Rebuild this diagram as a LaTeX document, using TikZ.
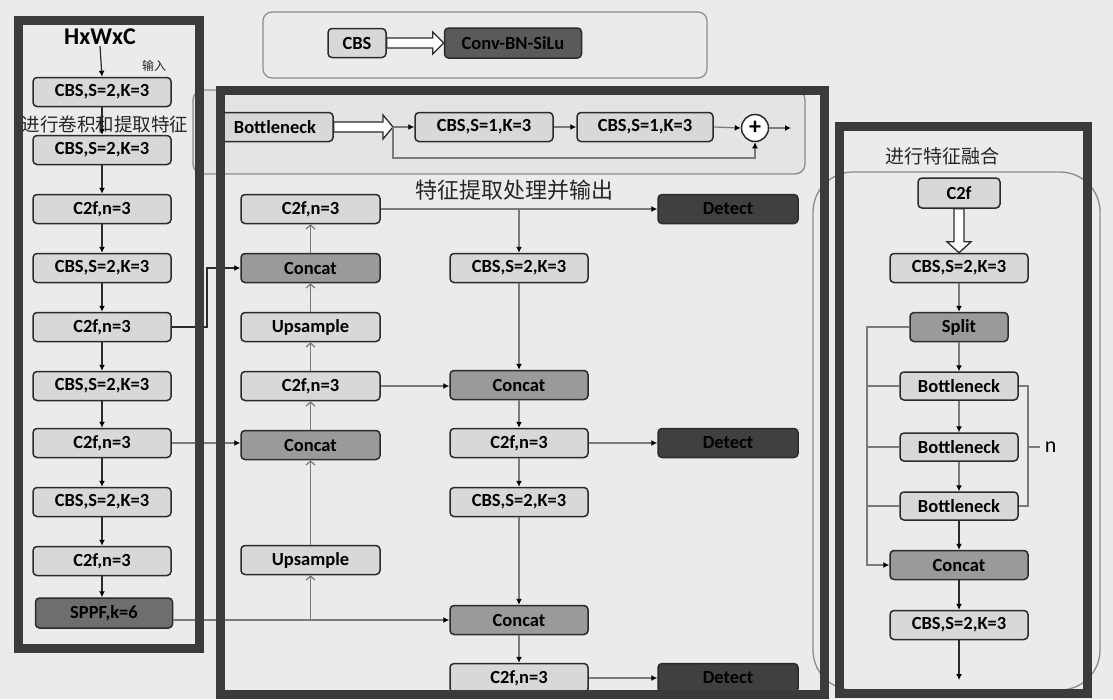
\documentclass[tikz,border=0pt]{standalone}
\usepackage{fontspec}
\setmainfont{Carlito}
\newfontfamily\cjk{Noto Sans CJK SC}
\usetikzlibrary{arrows.meta,calc}
\definecolor{bgc}{HTML}{EBEBEB}
\definecolor{lightf}{HTML}{D8D8D8}
\definecolor{midf}{HTML}{9A9A9A}
\definecolor{sppff}{HTML}{6E6E6E}
\definecolor{darkf}{HTML}{404040}
\definecolor{convf}{HTML}{5A5A5A}
\definecolor{bord}{HTML}{2B2B2B}
\definecolor{framec}{HTML}{3B3B3B}
\definecolor{linec}{HTML}{7A7A7A}
\definecolor{panelc}{HTML}{8C8C8C}
\begin{document}
\begin{tikzpicture}[x=1pt,y=-1pt,
  lbl/.style={font=\bfseries\fontsize{18.5}{18.5}\selectfont, text=black},
  bx/.style={lbl, draw=bord, line width=1.5pt, rounded corners=4pt, fill=lightf,
    minimum height=29pt, minimum width=138pt, inner sep=0pt},
  mbx/.style={bx, fill=midf},
  dbx/.style={bx, fill=darkf, text=black},
  frm/.style={draw=framec, line width=9pt},
  fa/.style={-{Latex[length=6pt,width=6pt,color=black]}},
  oa/.style={-{Straight Barb[length=4pt,width=9pt]}},
  ln/.style={draw=linec, line width=1.2pt},
  dl/.style={draw=bord, line width=1.2pt},
  hollow/.style={draw=bord, line width=1.3pt, fill=white, line join=miter},
  cjkt/.style={font=\cjk\fontsize{#1}{#1}\selectfont, text=black!85}
]
\useasboundingbox (0,0) rectangle (1113,699);
\fill[bgc] (0,0) rectangle (1113,699);

% ---------- legend ----------
\draw[draw=panelc, line width=1.2pt, rounded corners=9pt] (263,12) rectangle (707,78);
\node[bx, minimum width=58pt] (cbsleg) at (357,43) {CBS};
\node[bx, fill=convf, minimum width=137pt, minimum height=30pt] (conv) at (513,43) {Conv-BN-SiLu};
\draw[hollow] ($(cbsleg.east)+(0,-5)$) -- ($(conv.west)+(-11,-5)$) -- ($(conv.west)+(-11,-11)$)
  -- (conv.west) -- ($(conv.west)+(-11,11)$) -- ($(conv.west)+(-11,5)$) -- ($(cbsleg.east)+(0,5)$) -- cycle;

% ---------- bottleneck panel ----------
\draw[draw=panelc, line width=1.3pt, rounded corners=10pt, fill=black!3!bgc] (193,90) rectangle (805,174);
\node[bx, minimum width=116pt] (bneck) at (275,127) {Bottleneck};
\coordinate (bsplit) at (393,127);
\coordinate (bskip) at (393,158);
\node[bx] (bc1) at (484,127) {CBS,S=1,K=3};
\node[bx, minimum width=136pt] (bc2) at (645,127) {CBS,S=1,K=3};
\node[circle, draw=bord, line width=1.5pt, fill=white, minimum size=27pt, inner sep=0pt,
  font=\bfseries\fontsize{24}{24}\selectfont] (plus) at (755,128) {+};
\coordinate (bout) at (791,128);
\draw[hollow] ($(bneck.east)+(0,-5)$) -- ($(bsplit)+(-10,-5)$) -- ($(bsplit)+(-10,-12)$)
  -- (bsplit) -- ($(bsplit)+(-10,12)$) -- ($(bsplit)+(-10,5)$) -- ($(bneck.east)+(0,5)$) -- cycle;
\draw[ln, fa] (bsplit) -- (bc1.west);
\draw[ln, fa] (bc1.east) -- (bc2.west);
\draw[ln, fa] (bc2.east) -- (plus.west);
\draw[ln, fa] (plus.east) -- (bout);
\draw[ln, fa] (bsplit) -- (bskip) -| (plus.south);

% ---------- left column ----------
\node[font=\bfseries\fontsize{24}{24}\selectfont, inner sep=1pt] (hw) at (100,37) {HxWxC};
\node[cjkt=12] (inp) at (154,66) {输入};
\node[bx] (cbsL1) at (102,92) {CBS,S=2,K=3};
\node[bx] (cbsL2) at (102,150) {CBS,S=2,K=3};
\node[bx] (c2fL1) at (102,209) {C2f,n=3};
\node[bx] (cbsL3) at (102,268) {CBS,S=2,K=3};
\node[bx] (c2fL2) at (102,327) {C2f,n=3};
\node[bx] (cbsL4) at (102,386) {CBS,S=2,K=3};
\node[bx] (c2fL3) at (102,443) {C2f,n=3};
\node[bx] (cbsL5) at (102,502) {CBS,S=2,K=3};
\node[bx] (c2fL4) at (102,561) {C2f,n=3};
\node[bx, fill=sppff, minimum width=137pt, minimum height=30pt] (sppf) at (104,613) {SPPF,k=6};
\draw[dl, fa] (hw.south) -- (cbsL1.north);
\draw[dl, fa] (cbsL1.south) -- (cbsL2.north);
\draw[dl, fa] (cbsL2.south) -- (c2fL1.north);
\draw[dl, fa] (c2fL1.south) -- (cbsL3.north);
\draw[dl, fa] (cbsL3.south) -- (c2fL2.north);
\draw[dl, fa] (c2fL2.south) -- (cbsL4.north);
\draw[dl, fa] (cbsL4.south) -- (c2fL3.north);
\draw[dl, fa] (c2fL3.south) -- (cbsL5.north);
\draw[dl, fa] (cbsL5.south) -- (c2fL4.north);
\draw[dl, fa] (c2fL4.south) -- (c2fL4.south |- sppf.north);
\node[cjkt=18.5] (convtxt) at (105,124) {进行卷积和提取特征};

% ---------- middle: upsampling path ----------
\node[bx, minimum width=139pt] (c2fT) at (310.5,209) {C2f,n=3};
\node[mbx, minimum width=139pt] (cat1) at (310.5,268) {Concat};
\node[bx, minimum width=139pt] (up1) at (310.5,327) {Upsample};
\node[bx, minimum width=139pt] (c2fM) at (310.5,386) {C2f,n=3};
\node[mbx, minimum width=139pt] (cat2) at (310.5,445) {Concat};
\node[bx, minimum width=139pt] (up2) at (310.5,560) {Upsample};

\node[bx] (cbsM1) at (519,268) {CBS,S=2,K=3};
\node[mbx] (catM1) at (519,385) {Concat};
\node[bx] (c2fM2) at (519,443) {C2f,n=3};
\node[bx] (cbsM2) at (519,502) {CBS,S=2,K=3};
\node[mbx] (catM2) at (519,620) {Concat};
\node[bx] (c2fM3) at (519,678) {C2f,n=3};

\node[dbx, minimum width=140pt] (det1) at (728,209) {Detect};
\node[dbx, minimum width=140pt] (det2) at (728,443) {Detect};
\node[dbx, minimum width=140pt] (det3) at (728,678) {Detect};

\node[cjkt=22] (feattxt) at (514,190) {特征提取处理并输出};

% connectors
\draw[draw=bord, line width=1.8pt, fa] (c2fL2.east) -- ++(35,0) |- (cat1.west);
\draw[ln, fa] (c2fL3.east) -- (c2fL3.east -| cat2.west);
\draw[ln, fa] (sppf.east |- catM2.west) -- (catM2.west);
\draw[ln, oa] (up2.south |- catM2.west) -- (up2.south);
\draw[ln, oa] (up2.north) -- (cat2.south);
\draw[ln, oa] (cat2.north) -- (c2fM.south);
\draw[ln, oa] (c2fM.north) -- (up1.south);
\draw[ln, oa] (up1.north) -- (cat1.south);
\draw[ln, oa] (cat1.north) -- (c2fT.south);
\draw[ln, fa] (c2fM.east) -- (c2fM.east -| catM1.west);
\draw[ln, fa] (c2fT.east) -- (det1.west);
\draw[ln, fa] (cbsM1.north |- c2fT.east) -- (cbsM1.north);
\draw[ln, fa] (cbsM1.south) -- (catM1.north);
\draw[ln, fa] (catM1.south) -- (c2fM2.north);
\draw[ln, fa] (c2fM2.east) -- (det2.west);
\draw[ln, fa] (c2fM2.south) -- (cbsM2.north);
\draw[ln, fa] (cbsM2.south) -- (catM2.north);
\draw[ln, fa] (catM2.south) -- (c2fM3.north);
\draw[ln, fa] (c2fM3.east) -- (det3.west);

% ---------- right: C2f structure ----------
\draw[draw=panelc, line width=1.3pt, rounded corners=40pt] (813,172) rectangle (1100,690);
\node[cjkt=19] (fusetxt) at (942,156) {进行特征融合};
\node[bx, minimum width=82pt, minimum height=30pt] (c2fR) at (959,193) {C2f};
\node[bx] (cbsR1) at (959,268) {CBS,S=2,K=3};
\node[mbx, minimum width=98pt] (split) at (959,327) {Split};
\node[bx, minimum width=118pt, minimum height=28pt] (bn1) at (959,386) {Bottleneck};
\node[bx, minimum width=118pt, minimum height=28pt] (bn2) at (959,447) {Bottleneck};
\node[bx, minimum width=118pt, minimum height=28pt] (bn3) at (959,506) {Bottleneck};
\node[mbx] (catR) at (959,565) {Concat};
\node[bx] (cbsR2) at (959,625) {CBS,S=2,K=3};
\coordinate (rout) at (959,680);
\coordinate (byp) at (867,565);
\coordinate (brk) at (1028,447);
\draw[hollow] ($(c2fR.south)+(-5,0)$) -- ($(cbsR1.north)+(-5,-11)$) -- ($(cbsR1.north)+(-12,-11)$)
  -- (cbsR1.north) -- ($(cbsR1.north)+(12,-11)$) -- ($(cbsR1.north)+(5,-11)$) -- ($(c2fR.south)+(5,0)$) -- cycle;
\draw[ln, fa] (cbsR1.south) -- (split.north);
\draw[ln, fa] (split.south) -- (bn1.north);
\draw[ln, fa] (bn1.south) -- (bn2.north);
\draw[ln, fa] (bn2.south) -- (bn3.north);
\draw[dl, fa] (bn3.south) -- (catR.north);
\draw[dl, fa] (catR.south) -- (cbsR2.north);
\draw[dl, fa] (cbsR2.south) -- (rout);
\draw[ln, fa] (split.west) -- (split.west -| byp) -- (byp) -- (catR.west);
\draw[ln] (bn1.west) -- (bn1.west -| byp);
\draw[ln] (bn2.west) -- (bn2.west -| byp);
\draw[ln] (bn3.west) -- (bn3.west -| byp);
\draw[ln] (bn1.east) -- (bn1.east -| brk) -- (bn3.east -| brk) -- (bn3.east);
\draw[ln] (brk) -- ++(12,0) node[right=1pt, font=\fontsize{22}{22}\selectfont, text=black] (nlbl) {n};

% ---------- thick frames ----------
\draw[frm] (18,20) rectangle (199,648);
\draw[frm] (220,90) rectangle (824,694);
\draw[frm] (839,126) rectangle (1087,693);
\end{tikzpicture}
\end{document}
